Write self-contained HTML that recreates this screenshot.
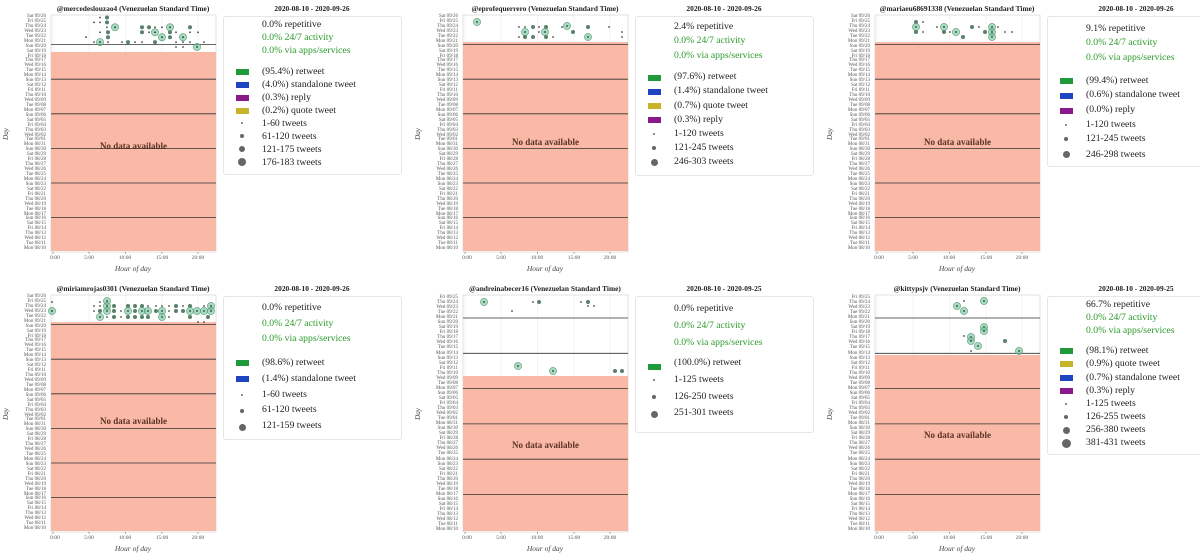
<!DOCTYPE html>
<html><head><meta charset="utf-8"><style>
body{margin:0;width:1200px;height:556px;background:#fff;position:relative;overflow:hidden;font-family:"Liberation Serif",serif;color:#222}
.p{position:absolute;width:412px;height:280px}
.p svg{position:absolute;left:0;top:0}
.t{position:absolute;top:4px;left:0;width:266px;text-align:center;font-weight:bold;font-size:7.4px;white-space:nowrap}
.d{position:absolute;top:4px;left:252px;width:120px;text-align:center;font-weight:bold;font-size:7.4px}
.days{position:absolute;left:0;width:46px;top:15px;text-align:right;font-size:5px;line-height:4.94px;white-space:pre;color:#555}
.days.s{line-height:5.04px}
.xt{position:absolute;top:255px;font-size:5.5px;color:#555;width:30px;text-align:center}
.xl{position:absolute;top:264px;left:103px;width:60px;text-align:center;font-style:italic;font-size:7.5px;color:#444}
.yl{position:absolute;left:0;top:130px;font-size:7px;font-style:italic;color:#444;transform:rotate(-90deg)}
.nd{position:absolute;left:51px;width:165px;text-align:center;font-size:9px;font-weight:bold;color:#4a2418;opacity:.9}
.lg{position:absolute;left:223px;top:16px;width:177px;border:1px solid #e6e6e6;border-radius:3px;background:#fff}
.li{position:absolute;left:38px;font-size:9.7px;white-space:nowrap;line-height:11px}
.g{color:#2a9a2a}
.sw{position:absolute;left:12px;width:13px;height:6px}
.mk{position:absolute;border-radius:50%;background:#666}
</style></head><body>

<svg width="0" height="0" style="position:absolute"><defs>
<g id="big"><circle r="3.6" fill="rgba(95,190,140,.55)" stroke="#5a9a7a" stroke-width=".6"/><circle r=".9" fill="#333"/></g>
<g id="m"><circle r="2" fill="#5a7f6c"/></g>
<g id="s"><circle r="0.9" fill="#444"/></g>
<g id="grid">
<rect x="51" y="15" width="165" height="237" fill="#fff" stroke="#ccc" stroke-width=".6"/>
<g stroke="rgba(0,0,0,.08)" stroke-width=".6"><line x1="53" y1="15" x2="53" y2="252"/><line x1="89" y1="15" x2="89" y2="252"/><line x1="125.5" y1="15" x2="125.5" y2="252"/><line x1="162" y1="15" x2="162" y2="252"/><line x1="198" y1="15" x2="198" y2="252"/></g>
<g stroke="#555" stroke-width=".5"><line x1="53" y1="252" x2="53" y2="254"/><line x1="89" y1="252" x2="89" y2="254"/><line x1="125.5" y1="252" x2="125.5" y2="254"/><line x1="162" y1="252" x2="162" y2="254"/><line x1="198" y1="252" x2="198" y2="254"/></g>
</g>
<g id="wk48" stroke="#333" stroke-width=".8"><line x1="51" y1="44.6" x2="216" y2="44.6"/><line x1="51" y1="79.2" x2="216" y2="79.2"/><line x1="51" y1="113.8" x2="216" y2="113.8"/><line x1="51" y1="148.4" x2="216" y2="148.4"/><line x1="51" y1="183" x2="216" y2="183"/><line x1="51" y1="217.6" x2="216" y2="217.6"/></g>
<g id="wk47" stroke="#333" stroke-width=".8"><line x1="51" y1="38" x2="216" y2="38"/><line x1="51" y1="73.3" x2="216" y2="73.3"/><line x1="51" y1="108.6" x2="216" y2="108.6"/><line x1="51" y1="143.9" x2="216" y2="143.9"/><line x1="51" y1="179.2" x2="216" y2="179.2"/><line x1="51" y1="214.5" x2="216" y2="214.5"/></g>
</defs></svg>

<!-- Panel 1 -->
<div class="p" style="left:0;top:0">
<svg width="412" height="280"><use href="#grid"/><rect x="51" y="52" width="165" height="199" fill="#f9b9a6"/><use href="#wk48"/>
<use href="#s" x="100" y="17.5"/><use href="#m" x="107" y="17.5"/><use href="#s" x="100" y="22.4"/><use href="#m" x="107" y="22.4"/><use href="#big" x="115" y="27.3"/><use href="#s" x="94" y="22.4"/><use href="#s" x="107" y="27.3"/><use href="#m" x="108" y="32.3"/><use href="#m" x="108" y="37.2"/><use href="#s" x="100" y="32.3"/><use href="#big" x="100" y="42.1"/><use href="#s" x="108" y="42.1"/><use href="#s" x="86" y="37.2"/><use href="#s" x="94" y="42.1"/><use href="#s" x="122" y="42.1"/><use href="#m" x="128" y="42.1"/><use href="#s" x="135" y="42.1"/><use href="#s" x="142" y="42.1"/><use href="#m" x="142" y="27.3"/><use href="#m" x="142" y="32.3"/><use href="#m" x="149" y="27.3"/><use href="#s" x="149" y="32.3"/><use href="#big" x="155" y="32.3"/><use href="#m" x="155" y="42.1"/><use href="#s" x="155" y="27.3"/><use href="#big" x="162" y="37.2"/><use href="#big" x="170" y="27.3"/><use href="#m" x="170" y="32.3"/><use href="#m" x="170" y="37.2"/><use href="#s" x="176" y="32.3"/><use href="#big" x="183" y="37.2"/><use href="#s" x="183" y="42.1"/><use href="#m" x="190" y="27.3"/><use href="#s" x="190" y="32.3"/><use href="#s" x="198" y="32.3"/><use href="#s" x="176" y="42.1"/><use href="#s" x="176" y="47"/><use href="#s" x="183" y="47"/><use href="#s" x="190" y="42.1"/><use href="#big" x="197" y="47"/><use href="#s" x="204" y="42.1"/><use href="#s" x="162" y="27.3"/>
</svg>
<div class="t">@mercedeslouzao4 (Venezuelan Standard Time)</div><div class="d">2020-08-10 - 2020-09-26</div>
<div class="days">Sat 09/26
Fri 09/25
Thu 09/24
Wed 09/23
Tue 09/22
Mon 09/21
Sun 09/20
Sat 09/19
Fri 09/18
Thu 09/17
Wed 09/16
Tue 09/15
Mon 09/14
Sun 09/13
Sat 09/12
Fri 09/11
Thu 09/10
Wed 09/09
Tue 09/08
Mon 09/07
Sun 09/06
Sat 09/05
Fri 09/04
Thu 09/03
Wed 09/02
Tue 09/01
Mon 08/31
Sun 08/30
Sat 08/29
Fri 08/28
Thu 08/27
Wed 08/26
Tue 08/25
Mon 08/24
Sun 08/23
Sat 08/22
Fri 08/21
Thu 08/20
Wed 08/19
Tue 08/18
Mon 08/17
Sun 08/16
Sat 08/15
Fri 08/14
Thu 08/13
Wed 08/12
Tue 08/11
Mon 08/10</div>
<div class="xt" style="left:40px">0:00</div><div class="xt" style="left:74px">5:00</div><div class="xt" style="left:110px">10:00</div><div class="xt" style="left:147px">15:00</div><div class="xt" style="left:183px">20:00</div>
<div class="xl">Hour of day</div><div class="yl">Day</div>
<div class="nd" style="top:141px">No data available</div>
<div class="lg" style="height:157px">
<div class="li" style="top:2px">0.0% repetitive</div>
<div class="li g" style="top:15px">0.0% 24/7 activity</div>
<div class="li g" style="top:28px">0.0% via apps/services</div>
<div class="sw" style="top:52px;background:#1f9a3a"></div><div class="li" style="top:49px">(95.4%) retweet</div>
<div class="sw" style="top:65px;background:#1f44c0"></div><div class="li" style="top:62px">(4.0%) standalone tweet</div>
<div class="sw" style="top:78px;background:#8a1a8a"></div><div class="li" style="top:75px">(0.3%) reply</div>
<div class="sw" style="top:91px;background:#c8b42a"></div><div class="li" style="top:88px">(0.2%) quote tweet</div>
<div class="mk" style="left:17px;top:105px;width:2px;height:2px"></div><div class="li" style="top:101px">1-60 tweets</div>
<div class="mk" style="left:16px;top:117px;width:4px;height:4px"></div><div class="li" style="top:114px">61-120 tweets</div>
<div class="mk" style="left:15px;top:129px;width:6px;height:6px"></div><div class="li" style="top:127px">121-175 tweets</div>
<div class="mk" style="left:14px;top:141px;width:8px;height:8px"></div><div class="li" style="top:140px">176-183 tweets</div>
</div>
</div>

<!-- Panel 2 -->
<div class="p" style="left:412px;top:0">
<svg width="412" height="280"><use href="#grid"/><rect x="51" y="42" width="165" height="209" fill="#f9b9a6"/><use href="#wk48"/>
<use href="#big" x="65" y="22"/><use href="#s" x="107" y="27"/><use href="#s" x="113" y="27"/><use href="#m" x="121" y="27"/><use href="#s" x="127" y="27"/><use href="#m" x="134" y="27"/><use href="#big" x="155" y="26"/><use href="#m" x="176" y="27"/><use href="#s" x="197" y="27"/><use href="#big" x="113" y="32"/><use href="#s" x="127" y="32"/><use href="#big" x="133" y="32"/><use href="#m" x="161" y="32"/><use href="#s" x="210" y="32"/><use href="#s" x="107" y="37"/><use href="#m" x="113" y="37"/><use href="#m" x="121" y="37"/><use href="#m" x="134" y="37"/><use href="#s" x="141" y="37"/><use href="#big" x="176" y="37"/><use href="#s" x="210" y="37"/><use href="#s" x="150" y="27"/>
</svg>
<div class="t">@eprofequerrero (Venezuelan Standard Time)</div><div class="d">2020-08-10 - 2020-09-26</div>
<div class="days">Sat 09/26
Fri 09/25
Thu 09/24
Wed 09/23
Tue 09/22
Mon 09/21
Sun 09/20
Sat 09/19
Fri 09/18
Thu 09/17
Wed 09/16
Tue 09/15
Mon 09/14
Sun 09/13
Sat 09/12
Fri 09/11
Thu 09/10
Wed 09/09
Tue 09/08
Mon 09/07
Sun 09/06
Sat 09/05
Fri 09/04
Thu 09/03
Wed 09/02
Tue 09/01
Mon 08/31
Sun 08/30
Sat 08/29
Fri 08/28
Thu 08/27
Wed 08/26
Tue 08/25
Mon 08/24
Sun 08/23
Sat 08/22
Fri 08/21
Thu 08/20
Wed 08/19
Tue 08/18
Mon 08/17
Sun 08/16
Sat 08/15
Fri 08/14
Thu 08/13
Wed 08/12
Tue 08/11
Mon 08/10</div>
<div class="xt" style="left:40px">0:00</div><div class="xt" style="left:74px">5:00</div><div class="xt" style="left:110px">10:00</div><div class="xt" style="left:147px">15:00</div><div class="xt" style="left:183px">20:00</div>
<div class="xl">Hour of day</div><div class="yl">Day</div>
<div class="nd" style="top:137px">No data available</div>
<div class="lg" style="height:158px">
<div class="li" style="top:4px">2.4% repetitive</div>
<div class="li g" style="top:18px">0.0% 24/7 activity</div>
<div class="li g" style="top:33px">0.0% via apps/services</div>
<div class="sw" style="top:58px;background:#1f9a3a"></div><div class="li" style="top:54px">(97.6%) retweet</div>
<div class="sw" style="top:72px;background:#1f44c0"></div><div class="li" style="top:68px">(1.4%) standalone tweet</div>
<div class="sw" style="top:86px;background:#c8b42a"></div><div class="li" style="top:83px">(0.7%) quote tweet</div>
<div class="sw" style="top:100px;background:#8a1a8a"></div><div class="li" style="top:97px">(0.3%) reply</div>
<div class="mk" style="left:17px;top:116px;width:2px;height:2px"></div><div class="li" style="top:111px">1-120 tweets</div>
<div class="mk" style="left:16px;top:129px;width:4px;height:4px"></div><div class="li" style="top:125px">121-245 tweets</div>
<div class="mk" style="left:15px;top:142px;width:7px;height:7px"></div><div class="li" style="top:139px">246-303 tweets</div>
</div>
</div>

<!-- Panel 3 -->
<div class="p" style="left:824px;top:0">
<svg width="412" height="280"><use href="#grid"/><rect x="51" y="42" width="165" height="209" fill="#f9b9a6"/><use href="#wk48"/>
<use href="#m" x="92" y="22"/><use href="#s" x="99" y="22"/><use href="#big" x="92" y="27"/><use href="#s" x="113" y="27"/><use href="#big" x="120" y="27"/><use href="#m" x="148" y="27"/><use href="#s" x="155" y="27"/><use href="#big" x="168" y="27"/><use href="#s" x="174" y="27"/><use href="#m" x="92" y="32"/><use href="#s" x="99" y="32"/><use href="#m" x="120" y="32"/><use href="#s" x="126" y="32"/><use href="#big" x="132" y="32"/><use href="#m" x="161" y="32"/><use href="#big" x="168" y="32"/><use href="#s" x="181" y="32"/><use href="#s" x="188" y="32"/><use href="#m" x="139" y="37"/><use href="#big" x="168" y="37"/>
</svg>
<div class="t">@mariaeu68691338 (Venezuelan Standard Time)</div><div class="d">2020-08-10 - 2020-09-26</div>
<div class="days">Sat 09/26
Fri 09/25
Thu 09/24
Wed 09/23
Tue 09/22
Mon 09/21
Sun 09/20
Sat 09/19
Fri 09/18
Thu 09/17
Wed 09/16
Tue 09/15
Mon 09/14
Sun 09/13
Sat 09/12
Fri 09/11
Thu 09/10
Wed 09/09
Tue 09/08
Mon 09/07
Sun 09/06
Sat 09/05
Fri 09/04
Thu 09/03
Wed 09/02
Tue 09/01
Mon 08/31
Sun 08/30
Sat 08/29
Fri 08/28
Thu 08/27
Wed 08/26
Tue 08/25
Mon 08/24
Sun 08/23
Sat 08/22
Fri 08/21
Thu 08/20
Wed 08/19
Tue 08/18
Mon 08/17
Sun 08/16
Sat 08/15
Fri 08/14
Thu 08/13
Wed 08/12
Tue 08/11
Mon 08/10</div>
<div class="xt" style="left:40px">0:00</div><div class="xt" style="left:74px">5:00</div><div class="xt" style="left:110px">10:00</div><div class="xt" style="left:147px">15:00</div><div class="xt" style="left:183px">20:00</div>
<div class="xl">Hour of day</div><div class="yl">Day</div>
<div class="nd" style="top:137px">No data available</div>
<div class="lg" style="height:149px">
<div class="li" style="top:6px">9.1% repetitive</div>
<div class="li g" style="top:20px">0.0% 24/7 activity</div>
<div class="li g" style="top:35px">0.0% via apps/services</div>
<div class="sw" style="top:61px;background:#1f9a3a"></div><div class="li" style="top:58px">(99.4%) retweet</div>
<div class="sw" style="top:76px;background:#1f44c0"></div><div class="li" style="top:72px">(0.6%) standalone tweet</div>
<div class="sw" style="top:91px;background:#8a1a8a"></div><div class="li" style="top:87px">(0.0%) reply</div>
<div class="mk" style="left:17px;top:107px;width:2px;height:2px"></div><div class="li" style="top:102px">1-120 tweets</div>
<div class="mk" style="left:16px;top:120px;width:4px;height:4px"></div><div class="li" style="top:116px">121-245 tweets</div>
<div class="mk" style="left:15px;top:134px;width:7px;height:7px"></div><div class="li" style="top:132px">246-298 tweets</div>
</div>
</div>

<!-- Panel 4 -->
<div class="p" style="left:0;top:280px">
<svg width="412" height="280"><use href="#grid"/><rect x="51" y="42" width="165" height="209" fill="#f9b9a6"/><use href="#wk48"/>
<use href="#s" x="52" y="22"/><use href="#big" x="52" y="31"/><use href="#big" x="107" y="21"/><use href="#s" x="100" y="22"/>
<use href="#s" x="94" y="26"/><use href="#s" x="100" y="26"/><use href="#big" x="107" y="26"/><use href="#m" x="114" y="26"/><use href="#m" x="128" y="26"/><use href="#m" x="135" y="26"/><use href="#m" x="142" y="26"/><use href="#s" x="148" y="26"/><use href="#s" x="156" y="26"/><use href="#s" x="162" y="26"/><use href="#s" x="169" y="26"/><use href="#m" x="176" y="26"/><use href="#s" x="183" y="26"/><use href="#m" x="190" y="26"/><use href="#s" x="204" y="26"/><use href="#big" x="211" y="26"/>
<use href="#s" x="94" y="31"/><use href="#m" x="100" y="31"/><use href="#big" x="107" y="31"/><use href="#m" x="114" y="31"/><use href="#s" x="121" y="31"/><use href="#big" x="128" y="31"/><use href="#m" x="135" y="31"/><use href="#big" x="142" y="31"/><use href="#big" x="148" y="31"/><use href="#m" x="156" y="31"/><use href="#big" x="162" y="31"/><use href="#s" x="169" y="31"/><use href="#m" x="176" y="31"/><use href="#m" x="183" y="31"/><use href="#big" x="190" y="31"/><use href="#big" x="197" y="31"/><use href="#big" x="204" y="31"/><use href="#big" x="211" y="31"/>
<use href="#big" x="100" y="37"/><use href="#s" x="107" y="37"/><use href="#m" x="114" y="37"/><use href="#s" x="121" y="37"/><use href="#m" x="128" y="37"/><use href="#m" x="135" y="37"/><use href="#m" x="142" y="37"/><use href="#m" x="148" y="37"/><use href="#big" x="162" y="37"/><use href="#s" x="169" y="37"/><use href="#m" x="190" y="37"/><use href="#m" x="208" y="37"/>
<use href="#s" x="198" y="42"/><use href="#s" x="204" y="42"/>
</svg>
<div class="t">@miriamrojas0301 (Venezuelan Standard Time)</div><div class="d">2020-08-10 - 2020-09-26</div>
<div class="days">Sat 09/26
Fri 09/25
Thu 09/24
Wed 09/23
Tue 09/22
Mon 09/21
Sun 09/20
Sat 09/19
Fri 09/18
Thu 09/17
Wed 09/16
Tue 09/15
Mon 09/14
Sun 09/13
Sat 09/12
Fri 09/11
Thu 09/10
Wed 09/09
Tue 09/08
Mon 09/07
Sun 09/06
Sat 09/05
Fri 09/04
Thu 09/03
Wed 09/02
Tue 09/01
Mon 08/31
Sun 08/30
Sat 08/29
Fri 08/28
Thu 08/27
Wed 08/26
Tue 08/25
Mon 08/24
Sun 08/23
Sat 08/22
Fri 08/21
Thu 08/20
Wed 08/19
Tue 08/18
Mon 08/17
Sun 08/16
Sat 08/15
Fri 08/14
Thu 08/13
Wed 08/12
Tue 08/11
Mon 08/10</div>
<div class="xt" style="left:40px">0:00</div><div class="xt" style="left:74px">5:00</div><div class="xt" style="left:110px">10:00</div><div class="xt" style="left:147px">15:00</div><div class="xt" style="left:183px">20:00</div>
<div class="xl">Hour of day</div><div class="yl">Day</div>
<div class="nd" style="top:136px">No data available</div>
<div class="lg" style="height:142px">
<div class="li" style="top:5px">0.0% repetitive</div>
<div class="li g" style="top:21px">0.0% 24/7 activity</div>
<div class="li g" style="top:36px">0.0% via apps/services</div>
<div class="sw" style="top:63px;background:#1f9a3a"></div><div class="li" style="top:60px">(98.6%) retweet</div>
<div class="sw" style="top:79px;background:#1f44c0"></div><div class="li" style="top:76px">(1.4%) standalone tweet</div>
<div class="mk" style="left:17px;top:97px;width:2px;height:2px"></div><div class="li" style="top:92px">1-60 tweets</div>
<div class="mk" style="left:16px;top:112px;width:4px;height:4px"></div><div class="li" style="top:107px">61-120 tweets</div>
<div class="mk" style="left:15px;top:127px;width:7px;height:7px"></div><div class="li" style="top:123px">121-159 tweets</div>
</div>
</div>

<!-- Panel 5 -->
<div class="p" style="left:412px;top:280px">
<svg width="412" height="280"><use href="#grid"/><rect x="51" y="96" width="165" height="155" fill="#f9b9a6"/><use href="#wk47"/>
<use href="#big" x="72" y="22"/><use href="#s" x="121" y="22"/><use href="#m" x="127" y="22"/><use href="#s" x="169" y="22"/><use href="#m" x="176" y="22"/><use href="#s" x="176" y="26"/><use href="#s" x="182" y="26"/><use href="#s" x="100" y="31"/><use href="#big" x="106" y="86"/><use href="#big" x="141" y="91"/><use href="#m" x="203" y="91"/><use href="#m" x="210" y="91"/>
</svg>
<div class="t">@andreinabecer16 (Venezuelan Standard Time)</div><div class="d">2020-08-10 - 2020-09-25</div>
<div class="days s">Fri 09/25
Thu 09/24
Wed 09/23
Tue 09/22
Mon 09/21
Sun 09/20
Sat 09/19
Fri 09/18
Thu 09/17
Wed 09/16
Tue 09/15
Mon 09/14
Sun 09/13
Sat 09/12
Fri 09/11
Thu 09/10
Wed 09/09
Tue 09/08
Mon 09/07
Sun 09/06
Sat 09/05
Fri 09/04
Thu 09/03
Wed 09/02
Tue 09/01
Mon 08/31
Sun 08/30
Sat 08/29
Fri 08/28
Thu 08/27
Wed 08/26
Tue 08/25
Mon 08/24
Sun 08/23
Sat 08/22
Fri 08/21
Thu 08/20
Wed 08/19
Tue 08/18
Mon 08/17
Sun 08/16
Sat 08/15
Fri 08/14
Thu 08/13
Wed 08/12
Tue 08/11
Mon 08/10</div>
<div class="xt" style="left:40px">0:00</div><div class="xt" style="left:74px">5:00</div><div class="xt" style="left:110px">10:00</div><div class="xt" style="left:147px">15:00</div><div class="xt" style="left:183px">20:00</div>
<div class="xl">Hour of day</div><div class="yl">Day</div>
<div class="nd" style="top:160px">No data available</div>
<div class="lg" style="height:135px">
<div class="li" style="top:6px">0.0% repetitive</div>
<div class="li g" style="top:23px">0.0% 24/7 activity</div>
<div class="li g" style="top:40px">0.0% via apps/services</div>
<div class="sw" style="top:67px;background:#1f9a3a"></div><div class="li" style="top:60px">(100.0%) retweet</div>
<div class="mk" style="left:17px;top:82px;width:2px;height:2px"></div><div class="li" style="top:77px">1-125 tweets</div>
<div class="mk" style="left:16px;top:98px;width:4px;height:4px"></div><div class="li" style="top:94px">126-250 tweets</div>
<div class="mk" style="left:15px;top:114px;width:7px;height:7px"></div><div class="li" style="top:110px">251-301 tweets</div>
</div>
</div>

<!-- Panel 6 -->
<div class="p" style="left:824px;top:280px">
<svg width="412" height="280"><use href="#grid"/><rect x="51" y="75" width="165" height="176" fill="#f9b9a6"/><use href="#wk47"/>
<use href="#s" x="140" y="21"/><use href="#big" x="160" y="21"/><use href="#big" x="133" y="26"/><use href="#big" x="140" y="31"/><use href="#big" x="160" y="47"/><use href="#big" x="160" y="51"/><use href="#s" x="140" y="56"/><use href="#big" x="147" y="57"/><use href="#big" x="147" y="61"/><use href="#big" x="154" y="66"/><use href="#m" x="181" y="61"/><use href="#s" x="147" y="71"/><use href="#big" x="195" y="71"/>
</svg>
<div class="t">@kittypsjv (Venezuelan Standard Time)</div><div class="d">2020-08-10 - 2020-09-25</div>
<div class="days s">Fri 09/25
Thu 09/24
Wed 09/23
Tue 09/22
Mon 09/21
Sun 09/20
Sat 09/19
Fri 09/18
Thu 09/17
Wed 09/16
Tue 09/15
Mon 09/14
Sun 09/13
Sat 09/12
Fri 09/11
Thu 09/10
Wed 09/09
Tue 09/08
Mon 09/07
Sun 09/06
Sat 09/05
Fri 09/04
Thu 09/03
Wed 09/02
Tue 09/01
Mon 08/31
Sun 08/30
Sat 08/29
Fri 08/28
Thu 08/27
Wed 08/26
Tue 08/25
Mon 08/24
Sun 08/23
Sat 08/22
Fri 08/21
Thu 08/20
Wed 08/19
Tue 08/18
Mon 08/17
Sun 08/16
Sat 08/15
Fri 08/14
Thu 08/13
Wed 08/12
Tue 08/11
Mon 08/10</div>
<div class="xt" style="left:40px">0:00</div><div class="xt" style="left:74px">5:00</div><div class="xt" style="left:110px">10:00</div><div class="xt" style="left:147px">15:00</div><div class="xt" style="left:183px">20:00</div>
<div class="xl">Hour of day</div><div class="yl">Day</div>
<div class="nd" style="top:150px">No data available</div>
<div class="lg" style="height:157px">
<div class="li" style="top:2px">66.7% repetitive</div>
<div class="li g" style="top:15px">0.0% 24/7 activity</div>
<div class="li g" style="top:28px">0.0% via apps/services</div>
<div class="sw" style="top:51px;background:#1f9a3a"></div><div class="li" style="top:48px">(98.1%) retweet</div>
<div class="sw" style="top:64px;background:#c8b42a"></div><div class="li" style="top:61px">(0.9%) quote tweet</div>
<div class="sw" style="top:78px;background:#1f44c0"></div><div class="li" style="top:75px">(0.7%) standalone tweet</div>
<div class="sw" style="top:91px;background:#8a1a8a"></div><div class="li" style="top:88px">(0.3%) reply</div>
<div class="mk" style="left:17px;top:106px;width:2px;height:2px"></div><div class="li" style="top:101px">1-125 tweets</div>
<div class="mk" style="left:16px;top:118px;width:4px;height:4px"></div><div class="li" style="top:114px">126-255 tweets</div>
<div class="mk" style="left:15px;top:130px;width:7px;height:7px"></div><div class="li" style="top:127px">256-380 tweets</div>
<div class="mk" style="left:14px;top:142px;width:9px;height:9px"></div><div class="li" style="top:140px">381-431 tweets</div>
</div>
</div>

</body></html>
